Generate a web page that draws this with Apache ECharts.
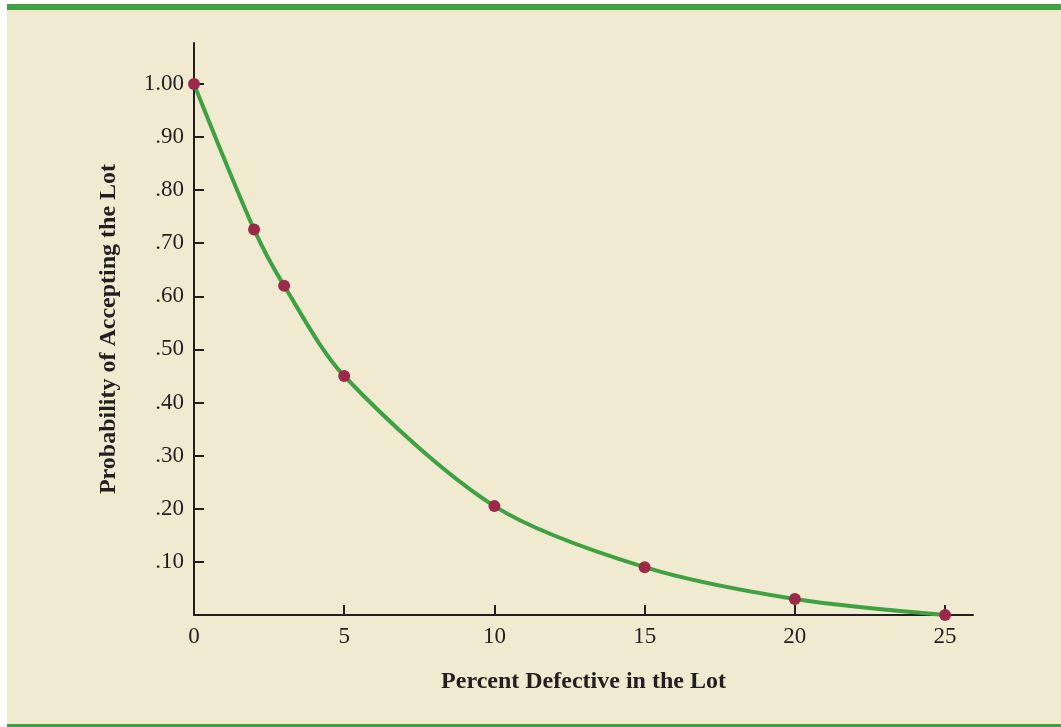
<!DOCTYPE html>
<html>
<head>
<meta charset="utf-8">
<script src="https://cdn.jsdelivr.net/npm/echarts@6/dist/echarts.min.js"></script>
<style>
  html, body { margin: 0; padding: 0; background: #fff; }
  #chart { width: 1061px; height: 727px; }
</style>
</head>
<body>
<div id="chart"></div>
<script>
// percent defective in the lot
const percentDefective = [0, 2, 3, 5, 10, 15, 20, 25];
// probability of accepting the lot
const probAccept = [1.00, 0.726, 0.62, 0.45, 0.205, 0.09, 0.03, 0.00];
const xTicks = [0, 5, 10, 15, 20, 25];
const yTicks = [0.1, 0.2, 0.3, 0.4, 0.5, 0.6, 0.7, 0.8, 0.9, 1.0];

const ink = '#231f20';
const font = '"Liberation Serif", "DejaVu Serif", serif';

let myChart = echarts.init(document.getElementById('chart'));
let option = {
  backgroundColor: '#ffffff',
  animation: false,
  graphic: [
    { type: 'rect', z: -10, shape: { x: 7, y: 10, width: 1054, height: 714 }, style: { fill: '#f0ebd0' } },
    { type: 'rect', z: -9, shape: { x: 7, y: 4, width: 1054, height: 6 }, style: { fill: '#3fa142' } },
    { type: 'rect', z: -9, shape: { x: 7, y: 724, width: 1054, height: 3 }, style: { fill: '#3fa142' } }
  ],
  grid: { left: 194, right: 88, top: 43, bottom: 112 },
  xAxis: {
    type: 'value',
    min: 0,
    max: 25.93,
    name: 'Percent Defective in the Lot',
    nameLocation: 'middle',
    nameGap: 55,
    nameTextStyle: { fontFamily: font, fontSize: 24, fontWeight: 'bold', color: ink },
    axisLine: { lineStyle: { color: ink, width: 2 } },
    axisTick: { inside: true, length: 10, customValues: xTicks, lineStyle: { color: ink, width: 2 } },
    axisLabel: {
      customValues: xTicks,
      margin: 10,
      fontFamily: font, fontSize: 23, color: ink,
      formatter: v => String(v)
    },
    splitLine: { show: false }
  },
  yAxis: {
    type: 'value',
    min: 0,
    max: 1.077,
    name: 'Probability of Accepting the Lot',
    nameLocation: 'middle',
    nameGap: 73,
    nameTextStyle: { fontFamily: font, fontSize: 24, fontWeight: 'bold', color: ink },
    axisLine: { show: true, lineStyle: { color: ink, width: 2 } },
    axisTick: { show: true, inside: true, length: 10, customValues: yTicks, lineStyle: { color: ink, width: 2 } },
    axisLabel: {
      customValues: yTicks,
      margin: 10,
      fontFamily: font, fontSize: 23, color: ink,
      formatter: v => v >= 0.999 ? v.toFixed(2) : v.toFixed(2).replace(/^0/, '')
    },
    splitLine: { show: false }
  },
  series: [
    {
      type: 'line',
      data: percentDefective.map((x, i) => [x, probAccept[i]]),
      smooth: 0.3,
      lineStyle: { color: '#3fa142', width: 4 },
      symbol: 'circle',
      symbolSize: 12,
      itemStyle: { color: '#9b2a4a' },
      clip: false,
      z: 5
    }
  ]
};
myChart.setOption(option);
window.addEventListener('resize', function () { myChart.resize() })
</script>
</body>
</html>
